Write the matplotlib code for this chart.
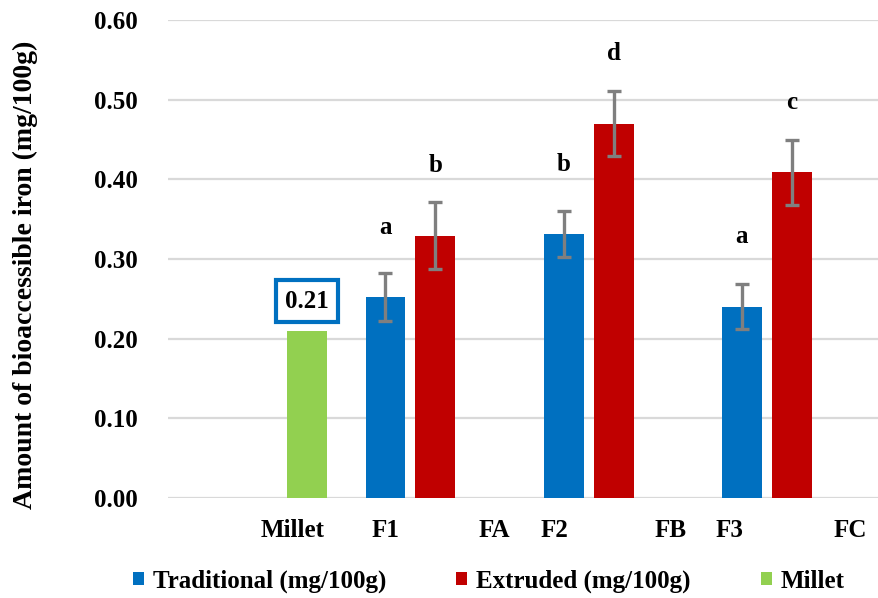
import numpy as np
import matplotlib
matplotlib.use("Agg")
import matplotlib.pyplot as plt

# data
groups = ["Millet", "F1", "F2", "F3"]
traditional = [np.nan, 0.252, 0.331, 0.240]
traditional_err = [np.nan, 0.030, 0.029, 0.028]
extruded = [np.nan, 0.329, 0.470, 0.409]
extruded_err = [np.nan, 0.042, 0.041, 0.041]
millet = [0.21, np.nan, np.nan, np.nan]
trad_letters = ["", "a", "b", "a"]
ext_letters = ["", "b", "d", "c"]
tick_labels = ["Millet", "F1", "FA", "F2", "FB", "F3", "FC"]

plt.rcParams['font.family'] = ['Liberation Serif', 'DejaVu Serif']
plt.rcParams['font.weight'] = 'bold'

fig = plt.figure(figsize=(8.79, 5.98), dpi=100)
ax = fig.add_axes([168/879, 1 - 498/598, (881 - 168)/879, (498 - 20)/598])

x = np.arange(len(groups))
off = 0.28
w = 0.224
blue = "#0070C0"
red = "#C00000"
green = "#92D050"
err_kw = dict(ecolor="#7F7F7F", elinewidth=2.4, capsize=5, capthick=2.4)

ax.bar(x - off, traditional, w, color=blue, yerr=traditional_err,
       error_kw=err_kw, label="Traditional (mg/100g)", zorder=3)
ax.bar(x, extruded, w, color=red, yerr=extruded_err,
       error_kw=err_kw, label="Extruded (mg/100g)", zorder=3)
ax.bar(x + off, millet, w, color=green, label="Millet", zorder=3)

# significance letters above the bars
for i in range(1, len(groups)):
    ax.text(x[i] - off, traditional[i] + 0.088, trad_letters[i],
            ha="center", va="center", fontsize=18, fontweight="bold")
    ax.text(x[i], extruded[i] + 0.088, ext_letters[i],
            ha="center", va="center", fontsize=18, fontweight="bold")

# boxed value label for millet
ax.text(x[0] + off, millet[0] + 0.037, "0.21", ha="center", va="center",
        fontsize=18, fontweight="bold",
        bbox=dict(boxstyle="square,pad=0.38", fc="white", ec=blue, lw=3))

ax.set_xlim(-0.5, 3.5)
ax.set_ylim(0, 0.6)
ax.set_yticks(np.arange(0, 0.61, 0.1))
ax.set_yticklabels([f"{v:.2f}" for v in np.arange(0, 0.61, 0.1)], fontsize=18, fontweight="bold")
ax.set_xticks([0.20, 0.72, 1.33, 1.67, 2.32, 2.65, 3.33])
ax.set_xticklabels(tick_labels, fontsize=18, fontweight="bold")
ax.tick_params(axis="both", length=0)
ax.tick_params(axis="y", pad=22)
ax.tick_params(axis="x", pad=15)
ax.grid(axis="y", color="#D9D9D9", linewidth=1.6, zorder=0)
for s in ax.spines.values():
    s.set_visible(False)

ax.set_ylabel("Amount of bioaccessible iron (mg/100g)", fontsize=20, fontweight="bold")
ax.yaxis.set_label_coords(-0.183, 0.466)

fig.legend(loc="center", bbox_to_anchor=(0.556, 0.028), ncol=3, frameon=False,
           prop=dict(size=18, weight="bold"), handlelength=0.45, handleheight=0.45,
           handletextpad=0.35, columnspacing=2.8)

fig.savefig("out.png", dpi=100)
